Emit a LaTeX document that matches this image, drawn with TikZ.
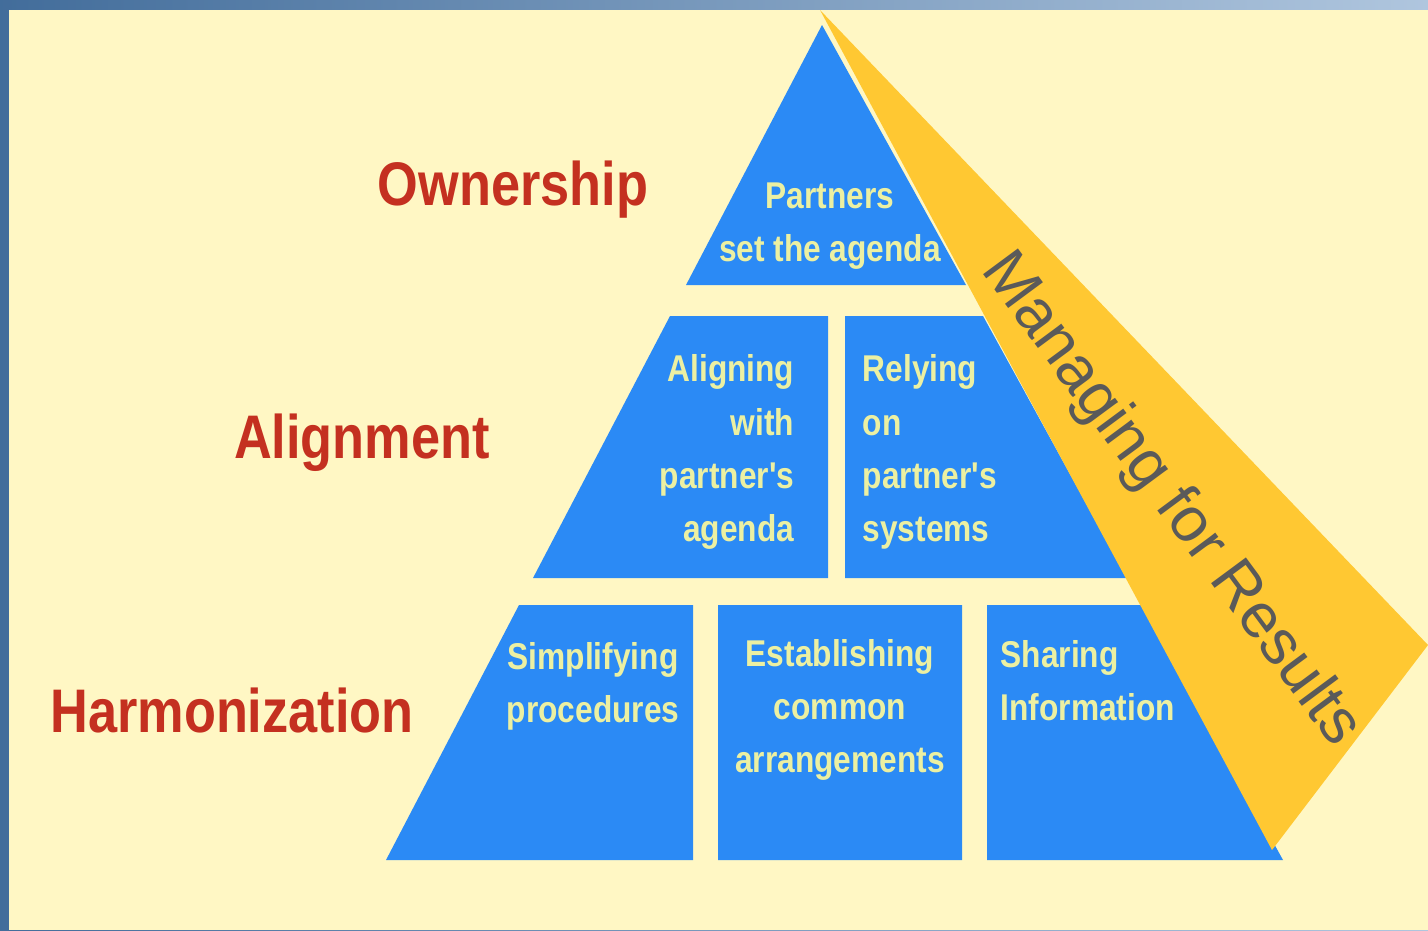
\documentclass[tikz,border=0pt]{standalone}
\usepackage{fontspec}
\setmainfont{Liberation Sans}
\newfontfamily\narrowfont[FakeStretch=0.85]{Liberation Sans}
\usepackage{tikz}

\definecolor{cream}{RGB}{255,247,196}
\definecolor{tierblue}{RGB}{43,138,245}
\definecolor{paleyellow}{RGB}{236,240,162}
\definecolor{labelred}{RGB}{196,48,32}
\definecolor{bandyellow}{RGB}{255,200,50}
\definecolor{frameblue}{RGB}{78,128,182}
\definecolor{bandtext}{RGB}{90,90,90}

\tikzset{
	tier/.style={fill=tierblue, draw=none},
	tiertext/.style={text=paleyellow, inner sep=0pt, font=\narrowfont\bfseries\fontsize{10.6}{15.1}\selectfont},
	levellabel/.style={text=labelred, inner sep=0pt, font=\narrowfont\bfseries\fontsize{17.5}{20}\selectfont}
}

\begin{document}
\begin{tikzpicture}[x=0.01cm, y=-0.01cm]
		\useasboundingbox (0,0) rectangle (1428,930);

		% Frame and background.
		\shade[left color=frameblue!85!black, right color=frameblue!45!white] (0,0) rectangle (1428,930);
		\fill[cream] (9,10) rectangle (1428,930);

		% Top tier.
		\fill[tier] (822,25) -- (966,285) -- (686,285) -- cycle;

		% Middle tier.
		\fill[tier] (670,316) -- (828,316) -- (828,578) -- (533,578) -- cycle
					(845,316) -- (983,316) -- (1127,578) -- (845,578) -- cycle;

		% Bottom tier.
		\fill[tier] (519,605) -- (693,605) -- (693,860) -- (386,860) -- cycle
					(718,605) -- (962,605) -- (962,860) -- (718,860) -- cycle
					(987,605) -- (1142,605) -- (1283,860) -- (987,860) -- cycle;

		% Level labels.
		\node[levellabel] (ownership) at (513,190) {Ownership};
		\node[levellabel] (alignment) at (362,443) {Alignment};
		\node[levellabel] (harmonization) at (232,710) {Harmonization};

		% Texts in the tiers.
		\node[tiertext, align=center] (partners) at (830,226) {Partners\\set the agenda};
		\node[tiertext, align=right, anchor=east] (aligning) at (795,452) {Aligning\\with\\partner's\\agenda};
		\node[tiertext, align=left, anchor=west] (relying) at (862,452) {Relying\\on\\partner's\\systems};
		\node[tiertext, align=center] (simplifying) at (593,686) {Simplifying\\procedures};
		\node[tiertext, align=center] (establishing) at (840,710) {Establishing\\common\\arrangements};
		\node[tiertext, align=left, anchor=west] (sharing) at (1000,681) {Sharing\\Information};

		% Managing for Results band.
		\fill[bandyellow] (820,10) -- (1428,645) -- (1272,850) -- cycle;
		\node[text=bandtext, inner sep=0pt, rotate=-53.5, font=\fontsize{17.9}{20}\selectfont] (results) at (1170,500) {Managing for Results};

	\end{tikzpicture}
\end{document}
